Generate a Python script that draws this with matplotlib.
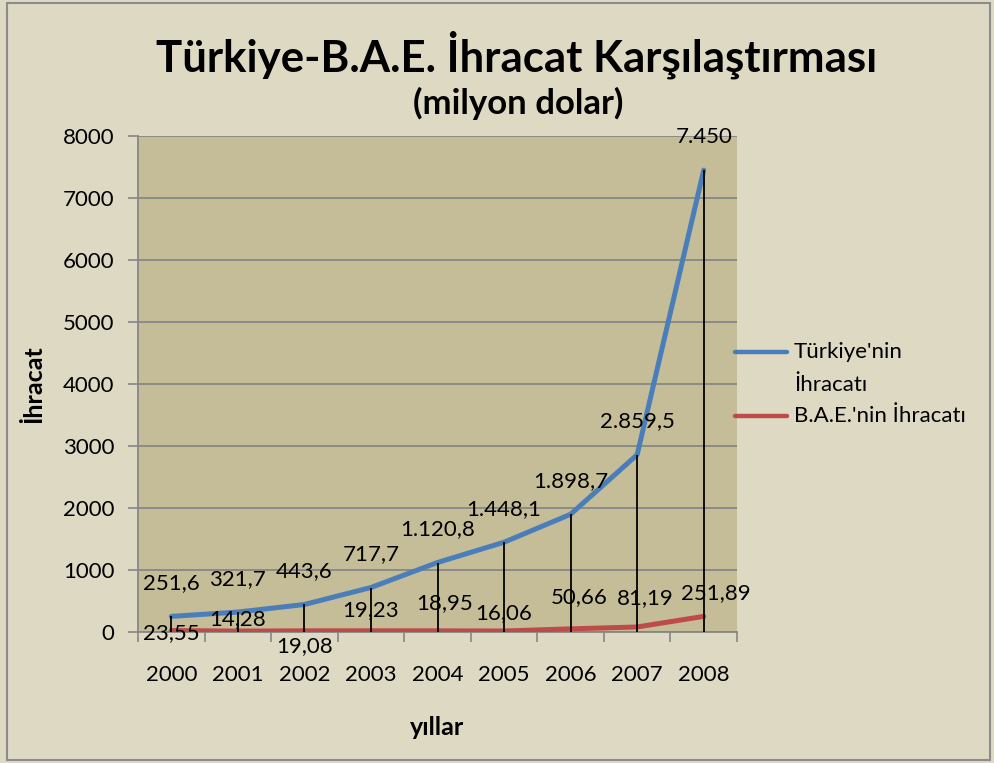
import numpy as np
import matplotlib
matplotlib.use("Agg")
from matplotlib import pyplot as plt
from matplotlib.patches import Rectangle
from matplotlib.lines import Line2D

plt.rcParams['font.family'] = ['Lato', 'DejaVu Sans']

# data
years = ['2000', '2001', '2002', '2003', '2004', '2005', '2006', '2007', '2008']
turkiye = [251.6, 321.7, 443.6, 717.7, 1120.8, 1448.1, 1898.7, 2859.5, 7450]
bae = [23.55, 14.28, 19.08, 19.23, 18.95, 16.06, 50.66, 81.19, 251.89]
turkiye_labels = ['251,6', '321,7', '443,6', '717,7', '1.120,8', '1.448,1',
                  '1.898,7', '2.859,5', '7.450']
bae_labels = ['23,55', '14,28', '19,08', '19,23', '18,95', '16,06',
              '50,66', '81,19', '251,89']
legend_lines = [["Türkiye'nin", "İhracatı"], ["B.A.E.'nin İhracatı"]]

# label offsets (points) for the B.A.E. labels, as placed in the original
bae_off = [(0, -2), (0, 9), (0, -11), (0, 15), (5, 20), (0, 13),
           (6, 23), (6, 21), (9, 17)]

blue = '#4a7ebb'
red = '#be4b48'
fig_bg = '#ddd9c3'
plot_bg = '#c4bd97'
grid_c = '#868686'

fig = plt.figure(figsize=(9.95, 7.63), dpi=100, facecolor=fig_bg)
ax = fig.add_axes([138 / 995, 1 - 632 / 763, (737 - 138) / 995, (632 - 136) / 763])
ax.set_facecolor(plot_bg)

x = np.arange(len(years))
ax.plot(x, turkiye, color=blue, lw=3.6, zorder=3, solid_capstyle='round')
ax.plot(x, bae, color=red, lw=3.6, zorder=3, solid_capstyle='round')
# drop lines
ax.vlines(x, 0, np.maximum(turkiye, bae), color='black', lw=1.3, zorder=4)

for xi, v, lab in zip(x, turkiye, turkiye_labels):
    ax.annotate(lab, (xi, v), xytext=(0, 24), textcoords='offset points',
                ha='center', va='center', fontsize=16, zorder=5,
                annotation_clip=False)
for xi, v, lab, off in zip(x, bae, bae_labels, bae_off):
    ax.annotate(lab, (xi, v), xytext=off, textcoords='offset points',
                ha='center', va='center', fontsize=16, zorder=5,
                annotation_clip=False)

ax.set_xlim(-0.5, len(years) - 0.5)
ax.set_ylim(0, 8000)
ax.set_yticks(np.arange(0, 8001, 1000))
ax.tick_params(axis='y', labelsize=16, length=7, width=1.2, color=grid_c, pad=10)
ax.set_xticks(x)
ax.set_xticklabels(years)
ax.set_xticks(np.arange(-0.5, len(years), 1), minor=True)
ax.tick_params(axis='x', which='major', length=0, labelsize=16, pad=24)
ax.tick_params(axis='x', which='minor', length=7, width=1.2, color=grid_c)
ax.grid(axis='y', color=grid_c, lw=1.3)
ax.set_axisbelow(True)
for s in ['top', 'right']:
    ax.spines[s].set_visible(False)
for s in ['left', 'bottom']:
    ax.spines[s].set_color(grid_c)
    ax.spines[s].set_linewidth(1.3)

ax.set_ylabel('İhracat', fontsize=18, fontweight='bold', labelpad=13)
ax.set_xlabel('yıllar', fontsize=18, fontweight='bold', labelpad=22)

fig.text(517 / 995, 1 - 55 / 763, 'Türkiye-B.A.E. İhracat Karşılaştırması',
         ha='center', va='center', fontsize=31.5, fontweight='bold')
fig.text(518 / 995, 1 - 103 / 763, '(milyon dolar)',
         ha='center', va='center', fontsize=25, fontweight='bold')

# legend
for y_px, c in [(352, blue), (416, red)]:
    yf = 1 - y_px / 763
    fig.add_artist(Line2D([735 / 995, 787 / 995], [yf, yf], color=c, lw=3.2,
                          solid_capstyle='round', transform=fig.transFigure))
for y_px, txt in [(352, legend_lines[0][0]), (385, legend_lines[0][1]),
                  (416, legend_lines[1][0])]:
    fig.text(794 / 995, 1 - y_px / 763, txt, ha='left', va='center', fontsize=16)

fig.add_artist(Rectangle((7 / 995, 3 / 763), 983 / 995, 757 / 763, fill=False,
                         edgecolor='#8c8c8c', lw=1.5, transform=fig.transFigure))

fig.savefig('out.png', dpi=100, facecolor=fig_bg)
